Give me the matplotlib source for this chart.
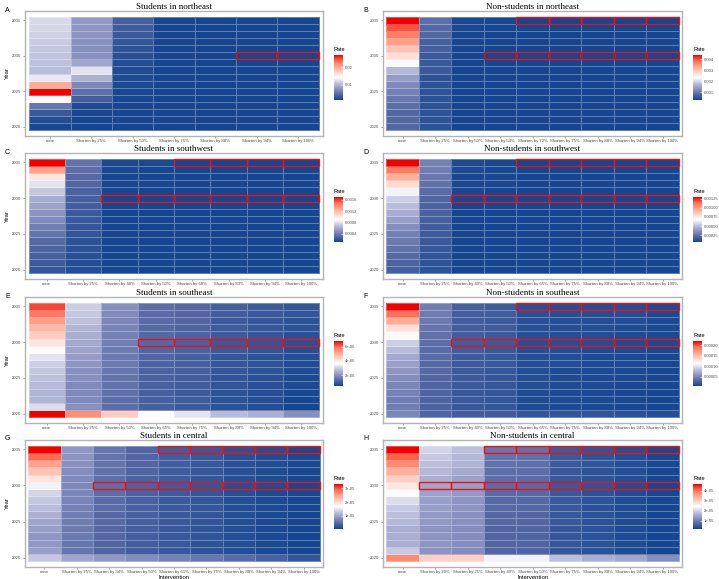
import matplotlib
matplotlib.use("Agg")
import matplotlib.pyplot as plt
import numpy as np
from matplotlib.colors import LinearSegmentedColormap
from matplotlib.patches import Rectangle

plt.rcParams['font.family'] = ['Liberation Sans', 'DejaVu Sans']

years = list(range(2020, 2036))

# ---- Panel A: Students in northeast (values 2020 -> 2035 for each column)
a_labels = ["none", "Shorten by 25%", "Shorten by 50%", "Shorten by 75%",
            "Shorten by 88%", "Shorten by 94%", "Shorten by 100%"]
a_none = [0.0015, 0.002, 0.003, 0.0055, 0.0145, 0.027, 0.020, 0.0128, 0.0103, 0.0106, 0.0108, 0.011, 0.0112, 0.0115, 0.0118, 0.012]
a_25 = [0.0012, 0.0013, 0.0015, 0.0018, 0.0035, 0.005, 0.0068, 0.0095, 0.0125, 0.0088, 0.0074, 0.0073, 0.0074, 0.0076, 0.0078, 0.008]
a_50 = [0.0012, 0.0012, 0.0013, 0.0013, 0.0014, 0.0015, 0.0016, 0.0018, 0.0019, 0.002, 0.0022, 0.0025, 0.0028, 0.0031, 0.0034, 0.0037]
a_75 = [0.0012, 0.0012, 0.0012, 0.0012, 0.0012, 0.0012, 0.0012, 0.0012, 0.0012, 0.0012, 0.0012, 0.0013, 0.0013, 0.0013, 0.0013, 0.0013]
a_88 = [0.0012, 0.0012, 0.0012, 0.0012, 0.0012, 0.0012, 0.0012, 0.0012, 0.0012, 0.0012, 0.0012, 0.0012, 0.0012, 0.0012, 0.0012, 0.0012]
a_94 = [0.0012, 0.0012, 0.0012, 0.0012, 0.0012, 0.0012, 0.0012, 0.0012, 0.0012, 0.0012, 0.0012, 0.0012, 0.0012, 0.0012, 0.0012, 0.0012]
a_100 = [0.0012, 0.0012, 0.0012, 0.0012, 0.0012, 0.0012, 0.0012, 0.0012, 0.0012, 0.0012, 0.0012, 0.0012, 0.0012, 0.0012, 0.0012, 0.0012]
a_ticks = [0.01, 0.02]
a_ticklabels = ["0.01", "0.02"]
a_marks = [(2030, 5), (2030, 6)]

# ---- Panel B: Non-students in northeast
b_labels = ["none", "Shorten by 25%", "Shorten by 50%", "Shorten by 54%", "Shorten by 72%",
            "Shorten by 75%", "Shorten by 88%", "Shorten by 94%", "Shorten by 100%"]
b_none = [0.0008, 0.0008, 0.0008, 0.0009, 0.0010, 0.0011, 0.0012, 0.0014, 0.0017, 0.0023, 0.0027, 0.0030, 0.0034, 0.0037, 0.0040, 0.0044]
b_25 = [0.0005, 0.0005, 0.0005, 0.0005, 0.0005, 0.0005, 0.0005, 0.0005, 0.0006, 0.0006, 0.0006, 0.0007, 0.0007, 0.0008, 0.0008, 0.0009]
b_50 = [0.0003, 0.0003, 0.0003, 0.0003, 0.0003, 0.0003, 0.0003, 0.0003, 0.0003, 0.0003, 0.0003, 0.0003, 0.00032, 0.00033, 0.00034, 0.00035]
b_54 = [0.0003, 0.0003, 0.0003, 0.0003, 0.0003, 0.0003, 0.0003, 0.0003, 0.0003, 0.0003, 0.0003, 0.0003, 0.0003, 0.00031, 0.00032, 0.00033]
b_72 = [0.0003, 0.0003, 0.0003, 0.0003, 0.0003, 0.0003, 0.0003, 0.0003, 0.0003, 0.0003, 0.0003, 0.0003, 0.0003, 0.0003, 0.0003, 0.0003]
b_75 = [0.0003, 0.0003, 0.0003, 0.0003, 0.0003, 0.0003, 0.0003, 0.0003, 0.0003, 0.0003, 0.0003, 0.0003, 0.0003, 0.0003, 0.0003, 0.0003]
b_88 = [0.0003, 0.0003, 0.0003, 0.0003, 0.0003, 0.0003, 0.0003, 0.0003, 0.0003, 0.0003, 0.0003, 0.0003, 0.0003, 0.0003, 0.0003, 0.0003]
b_94 = [0.0003, 0.0003, 0.0003, 0.0003, 0.0003, 0.0003, 0.0003, 0.0003, 0.0003, 0.0003, 0.0003, 0.0003, 0.0003, 0.0003, 0.0003, 0.0003]
b_100 = [0.0003, 0.0003, 0.0003, 0.0003, 0.0003, 0.0003, 0.0003, 0.0003, 0.0003, 0.0003, 0.0003, 0.0003, 0.0003, 0.0003, 0.0003, 0.0003]
b_ticks = [0.001, 0.002, 0.003, 0.004]
b_ticklabels = ["0.001", "0.002", "0.003", "0.004"]
b_marks = [(2035, 4), (2035, 5), (2035, 6), (2035, 7), (2035, 8),
           (2030, 3), (2030, 4), (2030, 5), (2030, 6), (2030, 7), (2030, 8)]

# ---- Panel C: Students in southwest
c_labels = ["none", "Shorten by 25%", "Shorten by 48%", "Shorten by 50%",
            "Shorten by 68%", "Shorten by 83%", "Shorten by 94%", "Shorten by 100%"]
c_none = [0.0002, 0.00023, 0.00025, 0.00028, 0.0003, 0.00035, 0.0004, 0.00045, 0.0005, 0.00055, 0.0006, 0.0007, 0.0008, 0.0010, 0.0013, 0.0017]
c_25 = [0.00015, 0.00015, 0.00016, 0.00017, 0.00018, 0.00019, 0.0002, 0.00021, 0.00022, 0.00024, 0.00025, 0.00027, 0.00029, 0.00031, 0.00033, 0.00035]
c_48 = [0.0001, 0.0001, 0.0001, 0.0001, 0.0001, 0.0001, 0.0001, 0.0001, 0.0001, 0.0001, 0.0001, 0.00011, 0.00011, 0.00011, 0.00012, 0.00012]
c_50 = [0.0001, 0.0001, 0.0001, 0.0001, 0.0001, 0.0001, 0.0001, 0.0001, 0.0001, 0.0001, 0.0001, 0.0001, 0.00011, 0.00011, 0.00011, 0.00012]
c_68 = [0.0001, 0.0001, 0.0001, 0.0001, 0.0001, 0.0001, 0.0001, 0.0001, 0.0001, 0.0001, 0.0001, 0.0001, 0.0001, 0.0001, 0.0001, 0.0001]
c_83 = [0.0001, 0.0001, 0.0001, 0.0001, 0.0001, 0.0001, 0.0001, 0.0001, 0.0001, 0.0001, 0.0001, 0.0001, 0.0001, 0.0001, 0.0001, 0.0001]
c_94 = [0.0001, 0.0001, 0.0001, 0.0001, 0.0001, 0.0001, 0.0001, 0.0001, 0.0001, 0.0001, 0.0001, 0.0001, 0.0001, 0.0001, 0.0001, 0.0001]
c_100 = [0.0001, 0.0001, 0.0001, 0.0001, 0.0001, 0.0001, 0.0001, 0.0001, 0.0001, 0.0001, 0.0001, 0.0001, 0.0001, 0.0001, 0.0001, 0.0001]
c_ticks = [0.0004, 0.0008, 0.0012, 0.0016]
c_ticklabels = ["0.0004", "0.0008", "0.0012", "0.0016"]
c_marks = [(2035, 4), (2035, 5), (2035, 6), (2035, 7),
           (2030, 2), (2030, 3), (2030, 4), (2030, 5), (2030, 6), (2030, 7)]

# ---- Panel D: Non-students in southwest
d_labels = ["none", "Shorten by 25%", "Shorten by 40%", "Shorten by 50%", "Shorten by 65%",
            "Shorten by 75%", "Shorten by 88%", "Shorten by 94%", "Shorten by 100%"]
d_none = [0.00018, 0.0002, 0.00022, 0.00025, 0.00028, 0.0003, 0.00035, 0.0004, 0.00045, 0.0005, 0.00055, 0.00065, 0.0008, 0.00095, 0.0011, 0.0013]
d_25 = [0.00012, 0.00012, 0.00013, 0.00014, 0.00015, 0.00016, 0.00017, 0.00018, 0.00019, 0.0002, 0.00021, 0.00023, 0.00025, 0.00027, 0.00029, 0.0003]
d_40 = [0.00006, 0.00006, 0.00006, 0.00006, 0.00006, 0.00006, 0.00006, 0.00006, 0.00006, 0.00006, 0.00006, 0.00007, 0.00007, 0.00007, 0.00008, 0.00008]
d_50 = [0.00006, 0.00006, 0.00006, 0.00006, 0.00006, 0.00006, 0.00006, 0.00006, 0.00006, 0.00006, 0.00006, 0.00006, 0.00007, 0.00007, 0.00007, 0.00007]
d_65 = [0.00006, 0.00006, 0.00006, 0.00006, 0.00006, 0.00006, 0.00006, 0.00006, 0.00006, 0.00006, 0.00006, 0.00006, 0.00006, 0.00006, 0.00006, 0.00006]
d_75 = [0.00006, 0.00006, 0.00006, 0.00006, 0.00006, 0.00006, 0.00006, 0.00006, 0.00006, 0.00006, 0.00006, 0.00006, 0.00006, 0.00006, 0.00006, 0.00006]
d_88 = [0.00006, 0.00006, 0.00006, 0.00006, 0.00006, 0.00006, 0.00006, 0.00006, 0.00006, 0.00006, 0.00006, 0.00006, 0.00006, 0.00006, 0.00006, 0.00006]
d_94 = [0.00006, 0.00006, 0.00006, 0.00006, 0.00006, 0.00006, 0.00006, 0.00006, 0.00006, 0.00006, 0.00006, 0.00006, 0.00006, 0.00006, 0.00006, 0.00006]
d_100 = [0.00006, 0.00006, 0.00006, 0.00006, 0.00006, 0.00006, 0.00006, 0.00006, 0.00006, 0.00006, 0.00006, 0.00006, 0.00006, 0.00006, 0.00006, 0.00006]
d_ticks = [0.00025, 0.0005, 0.00075, 0.001, 0.00125]
d_ticklabels = ["0.00025", "0.00050", "0.00075", "0.00100", "0.00125"]
d_marks = [(2035, 4), (2035, 5), (2035, 6), (2035, 7), (2035, 8),
           (2030, 2), (2030, 3), (2030, 4), (2030, 5), (2030, 6), (2030, 7), (2030, 8)]

# ---- Panel E: Students in southeast (units of 1e-6)
e_labels = ["none", "Shorten by 25%", "Shorten by 50%", "Shorten by 65%",
            "Shorten by 75%", "Shorten by 88%", "Shorten by 94%", "Shorten by 100%"]
e_none = [6.8, 3.2, 2.6, 2.6, 2.7, 2.8, 2.9, 3.0, 3.3, 3.7, 4.1, 4.5, 4.9, 5.3, 5.8, 6.3]
e_25 = [5.5, 2.0, 1.9, 1.9, 1.9, 2.0, 2.0, 2.1, 2.2, 2.3, 2.4, 2.5, 2.6, 2.8, 2.9, 3.0]
e_50 = [4.5, 1.4, 1.4, 1.45, 1.5, 1.5, 1.55, 1.6, 1.6, 1.65, 1.7, 1.75, 1.8, 1.85, 1.9, 2.0]
e_65 = [3.7, 1.1, 1.1, 1.1, 1.15, 1.15, 1.2, 1.2, 1.25, 1.25, 1.3, 1.3, 1.3, 1.35, 1.35, 1.4]
e_75 = [3.3, 1.0, 1.0, 1.0, 1.05, 1.05, 1.1, 1.1, 1.1, 1.15, 1.15, 1.2, 1.2, 1.25, 1.25, 1.3]
e_88 = [2.7, 0.8, 0.8, 0.8, 0.85, 0.85, 0.9, 0.9, 0.9, 0.95, 0.95, 1.0, 1.0, 1.0, 1.05, 1.1]
e_94 = [2.5, 0.7, 0.7, 0.7, 0.75, 0.75, 0.8, 0.8, 0.8, 0.85, 0.85, 0.9, 0.9, 0.9, 0.95, 1.0]
e_100 = [2.0, 0.5, 0.5, 0.55, 0.6, 0.6, 0.65, 0.65, 0.7, 0.7, 0.75, 0.75, 0.8, 0.8, 0.85, 0.9]
e_ticks = [2e-06, 4e-06, 6e-06]
e_ticklabels = ["2e-06", "4e-06", "6e-06"]
e_marks = [(2030, 3), (2030, 4), (2030, 5), (2030, 6), (2030, 7)]

# ---- Panel F: Non-students in southeast (units of 1e-5)
f_labels = d_labels
f_none = [5.0, 4.5, 4.5, 4.8, 5.0, 5.5, 6.0, 6.5, 7.0, 8.0, 9.0, 11.0, 13.0, 16.0, 19.0, 22.0]
f_25 = [3.0, 2.8, 2.9, 3.0, 3.0, 3.1, 3.2, 3.3, 3.4, 3.5, 3.6, 3.8, 4.0, 4.2, 4.4, 4.5]
f_40 = [2.5, 2.0, 2.0, 2.0, 2.1, 2.1, 2.1, 2.2, 2.2, 2.3, 2.3, 2.4, 2.4, 2.5, 2.5, 2.6]
f_50 = [2.3, 1.8, 1.8, 1.8, 1.9, 1.9, 1.9, 2.0, 2.0, 2.0, 2.1, 2.1, 2.2, 2.2, 2.3, 2.3]
f_65 = [1.8, 1.0, 1.0, 1.0, 1.1, 1.1, 1.1, 1.2, 1.2, 1.2, 1.3, 1.3, 1.3, 1.4, 1.4, 1.4]
f_75 = [1.7, 0.9, 0.9, 0.9, 1.0, 1.0, 1.0, 1.1, 1.1, 1.1, 1.2, 1.2, 1.2, 1.3, 1.3, 1.3]
f_88 = [1.6, 0.8, 0.8, 0.8, 0.9, 0.9, 0.9, 1.0, 1.0, 1.0, 1.1, 1.1, 1.1, 1.2, 1.2, 1.2]
f_94 = [1.5, 0.7, 0.7, 0.7, 0.8, 0.8, 0.8, 0.9, 0.9, 0.9, 1.0, 1.0, 1.0, 1.1, 1.1, 1.1]
f_100 = [1.2, 0.5, 0.5, 0.5, 0.6, 0.6, 0.6, 0.7, 0.7, 0.7, 0.8, 0.8, 0.8, 0.9, 0.9, 0.9]
f_ticks = [0.00005, 0.0001, 0.00015, 0.0002]
f_ticklabels = ["0.00005", "0.00010", "0.00015", "0.00020"]
f_marks = d_marks

# ---- Panel G: Students in central (units of 1e-5)
g_labels = ["none", "Shorten by 25%", "Shorten by 34%", "Shorten by 50%", "Shorten by 61%",
            "Shorten by 75%", "Shorten by 88%", "Shorten by 94%", "Shorten by 100%"]
g_none = [1.3, 0.95, 0.9, 0.9, 0.95, 1.0, 1.1, 1.2, 1.3, 1.4, 1.6, 1.9, 2.2, 2.5, 2.9, 3.3]
g_25 = [1.0, 0.6, 0.6, 0.62, 0.64, 0.66, 0.68, 0.7, 0.72, 0.74, 0.76, 0.78, 0.8, 0.84, 0.87, 0.9]
g_34 = [0.9, 0.45, 0.45, 0.46, 0.47, 0.48, 0.49, 0.5, 0.51, 0.52, 0.53, 0.54, 0.56, 0.57, 0.58, 0.6]
g_50 = [0.8, 0.35, 0.35, 0.36, 0.37, 0.37, 0.38, 0.39, 0.4, 0.4, 0.41, 0.42, 0.43, 0.44, 0.44, 0.45]
g_61 = [0.7, 0.28, 0.28, 0.29, 0.29, 0.3, 0.3, 0.31, 0.31, 0.32, 0.32, 0.33, 0.33, 0.34, 0.34, 0.35]
g_75 = [0.6, 0.22, 0.22, 0.23, 0.23, 0.24, 0.24, 0.25, 0.25, 0.26, 0.26, 0.27, 0.27, 0.28, 0.29, 0.3]
g_88 = [0.5, 0.15, 0.15, 0.15, 0.16, 0.16, 0.16, 0.17, 0.17, 0.17, 0.18, 0.18, 0.18, 0.19, 0.19, 0.2]
g_94 = [0.4, 0.1, 0.1, 0.1, 0.11, 0.11, 0.11, 0.12, 0.12, 0.12, 0.13, 0.13, 0.13, 0.14, 0.14, 0.15]
g_100 = [0.25, 0.06, 0.06, 0.06, 0.07, 0.07, 0.07, 0.08, 0.08, 0.08, 0.08, 0.09, 0.09, 0.09, 0.1, 0.1]
g_ticks = [1e-05, 2e-05, 3e-05]
g_ticklabels = ["1e-05", "2e-05", "3e-05"]
g_marks = d_marks

# ---- Panel H: Non-students in central (units of 1e-5)
h_labels = ["none", "Shorten by 20%", "Shorten by 25%", "Shorten by 49%", "Shorten by 50%",
            "Shorten by 75%", "Shorten by 88%", "Shorten by 94%", "Shorten by 100%"]
h_none = [3.8, 1.9, 1.6, 1.6, 1.6, 1.7, 1.8, 1.9, 2.1, 2.4, 2.7, 3.0, 3.4, 3.8, 4.2, 4.7]
h_20 = [3.0, 1.3, 1.3, 1.3, 1.3, 1.35, 1.35, 1.4, 1.4, 1.45, 1.5, 1.6, 1.7, 1.8, 1.9, 2.0]
h_25 = [3.0, 1.2, 1.2, 1.2, 1.2, 1.25, 1.25, 1.3, 1.3, 1.35, 1.4, 1.45, 1.55, 1.65, 1.7, 1.8]
h_49 = [2.3, 0.7, 0.7, 0.7, 0.7, 0.72, 0.72, 0.74, 0.75, 0.76, 0.78, 0.8, 0.82, 0.85, 0.87, 0.9]
h_50 = [2.3, 0.68, 0.68, 0.68, 0.69, 0.7, 0.7, 0.72, 0.73, 0.74, 0.76, 0.78, 0.8, 0.82, 0.84, 0.86]
h_75 = [1.8, 0.45, 0.45, 0.45, 0.45, 0.46, 0.46, 0.46, 0.47, 0.47, 0.47, 0.48, 0.48, 0.49, 0.49, 0.5]
h_88 = [1.6, 0.35, 0.35, 0.35, 0.35, 0.36, 0.36, 0.36, 0.37, 0.37, 0.37, 0.38, 0.38, 0.39, 0.39, 0.4]
h_94 = [1.5, 0.25, 0.25, 0.25, 0.25, 0.26, 0.26, 0.26, 0.27, 0.27, 0.27, 0.28, 0.28, 0.29, 0.29, 0.3]
h_100 = [1.2, 0.15, 0.15, 0.15, 0.15, 0.16, 0.16, 0.16, 0.17, 0.17, 0.17, 0.18, 0.18, 0.19, 0.19, 0.2]
h_ticks = [1e-05, 2e-05, 3e-05, 4e-05]
h_ticklabels = ["1e-05", "2e-05", "3e-05", "4e-05"]
h_marks = [(2035, 3), (2035, 4), (2035, 5), (2035, 6), (2035, 7), (2035, 8),
           (2030, 1), (2030, 2), (2030, 3), (2030, 4), (2030, 5), (2030, 6), (2030, 7), (2030, 8)]

panels = [
    ("A", "Students in northeast", a_labels, [a_none, a_25, a_50, a_75, a_88, a_94, a_100], 1, a_ticks, a_ticklabels, a_marks),
    ("B", "Non-students in northeast", b_labels, [b_none, b_25, b_50, b_54, b_72, b_75, b_88, b_94, b_100], 1, b_ticks, b_ticklabels, b_marks),
    ("C", "Students in southwest", c_labels, [c_none, c_25, c_48, c_50, c_68, c_83, c_94, c_100], 1, c_ticks, c_ticklabels, c_marks),
    ("D", "Non-students in southwest", d_labels, [d_none, d_25, d_40, d_50, d_65, d_75, d_88, d_94, d_100], 1, d_ticks, d_ticklabels, d_marks),
    ("E", "Students in southeast", e_labels, [e_none, e_25, e_50, e_65, e_75, e_88, e_94, e_100], 1e-6, e_ticks, e_ticklabels, e_marks),
    ("F", "Non-students in southeast", f_labels, [f_none, f_25, f_40, f_50, f_65, f_75, f_88, f_94, f_100], 1e-5, f_ticks, f_ticklabels, f_marks),
    ("G", "Students in central", g_labels, [g_none, g_25, g_34, g_50, g_61, g_75, g_88, g_94, g_100], 1e-5, g_ticks, g_ticklabels, g_marks),
    ("H", "Non-students in central", h_labels, [h_none, h_20, h_25, h_49, h_50, h_75, h_88, h_94, h_100], 1e-5, h_ticks, h_ticklabels, h_marks),
]

# blue - white - red, roughly like ggplot's gradient2 (Lab-ish midtones)
cmap = LinearSegmentedColormap.from_list("rate", [
    (0.0, "#15468f"), (0.12, "#5266a3"), (0.25, "#8d94c2"), (0.38, "#c4c7e0"),
    (0.5, "#ffffff"), (0.62, "#ffd2c6"), (0.75, "#ffa38d"), (0.88, "#fb6a50"),
    (1.0, "#f20000")])

W, H = 719, 579
fig = plt.figure(figsize=(W / 100, H / 100), dpi=100)

col_x = [(25, 298), (383, 299)]
row_y = [(11, 136), (153, 279), (297, 423), (440, 567)]

for i, (letter, title, labels, cols, unit, cticks, cticklabels, marks) in enumerate(panels):
    r, c = divmod(i, 2)
    x0, w = col_x[c]
    top, bot = row_y[r]
    ax = fig.add_axes([x0 / W, 1 - bot / H, w / W, (bot - top) / H])
    z = np.array(cols).T * unit
    n = len(labels)
    xe = np.arange(n + 1) - 0.5
    ye = np.arange(2020, 2037) - 0.5
    mesh = ax.pcolormesh(xe, ye, z, cmap=cmap, vmin=z.min(), vmax=z.max(),
                         edgecolors=(1, 1, 1, 0.3), linewidth=0.6)
    for (yr, ci) in marks:
        ax.add_patch(Rectangle((ci - 0.5, yr - 0.5), 1, 1, fill=False,
                               ec="#ee1111", lw=1.0, zorder=3))
    ax.set_xlim(-0.6, n - 0.4)
    ax.set_ylim(2019.5 - 0.8, 2035.5 + 0.8)
    ax.set_xticks(range(n))
    ax.set_xticklabels(labels, fontsize=3.1, color="#4d4d4d")
    ax.set_yticks([2020, 2025, 2030, 2035])
    ax.set_yticklabels(["2020", "2025", "2030", "2035"], fontsize=3.1, color="#4d4d4d")
    ax.tick_params(length=1.5, width=0.4, color="#555555", pad=1)
    for s in ax.spines.values():
        s.set_color("#b3b3b3")
        s.set_linewidth(1.0)
    ax.set_title(title, fontsize=6.5, family=["Liberation Serif", "DejaVu Serif"], pad=1.5)
    if c == 0:
        ax.set_ylabel("Year", fontsize=4.2, labelpad=2)
    if r == 3:
        ax.set_xlabel("Intervention", fontsize=4.2, labelpad=0.5)
    fig.text((x0 - 20) / W, 1 - (top - 1) / H, letter, fontsize=5, ha="left", va="center")

    cx = x0 + w + 11
    cax = fig.add_axes([cx / W, 1 - (top + 89) / H, 9 / W, 45 / H])
    cb = fig.colorbar(mesh, cax=cax)
    cb.outline.set_visible(False)
    cb.set_ticks(cticks)
    cb.set_ticklabels(cticklabels)
    cax.tick_params(labelsize=3.0, length=1.5, width=0.4, color="white", direction="in", pad=1.5, labelcolor="#4d4d4d")
    fig.text(cx / W, 1 - (top + 41) / H, "Rate", fontsize=4.0, ha="left", va="bottom")

fig.savefig("out.png", dpi=100)
